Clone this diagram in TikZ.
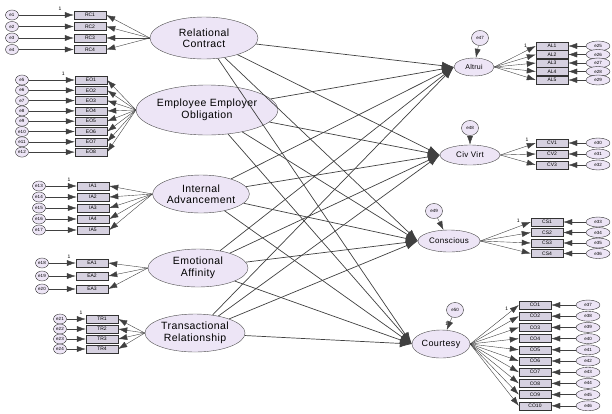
\documentclass[tikz,border=0pt]{standalone}
\usepackage{fontspec}
\setmainfont{Liberation Sans}
\newfontfamily\semfont[LetterSpace=4]{Liberation Sans}
\usetikzlibrary{arrows.meta,shapes.geometric}
\definecolor{lav}{RGB}{237,229,246}
\definecolor{itemgray}{RGB}{214,209,224}

\begin{document}
\begin{tikzpicture}[x=1pt,y=-1pt]
	\tikzset{latent/.style={draw=black!70,
				ellipse,
				fill=lav,
				inner sep=0pt,
				align=center,
				font=\semfont\fontsize{10.5}{11.5}\selectfont},
			item/.style={draw=black!80,
				rectangle,
				fill=itemgray,
				minimum width=32pt,
				minimum height=8pt,
				inner sep=0pt,
				font=\fontsize{5}{5}\selectfont},
			err/.style={draw=black!80,
				ellipse,
				fill=lav,
				minimum width=13pt,
				minimum height=10pt,
				inner sep=0pt,
				font=\fontsize{4.5}{5}\selectfont},
			fixlab/.style={font=\fontsize{5}{5}\selectfont, inner sep=1pt},
			arrow/.style={-{Latex[length=9pt,width=6pt]},
				draw=black!75},
			path/.style={-{Latex[length=12pt,width=8pt]},
				draw=black!75,
				line width=0.7pt}}
	\useasboundingbox (0,0) rectangle (612,413);

	% Exogenous latent variables
	\node[latent, minimum width=108pt, minimum height=42pt] (rc) at (204,38) {Relational\\Contract};
	\node[latent, minimum width=134pt, minimum height=50pt] (eeo) at (207,110) {Employee Employer\\Obligation};
	\node[latent, minimum width=94pt, minimum height=38pt] (ia) at (201,194) {Internal\\Advancement};
	\node[latent, minimum width=100pt, minimum height=38pt] (ea) at (198,268) {Emotional\\Affinity};
	\node[latent, minimum width=100pt, minimum height=38pt] (tr) at (195,333) {Transactional\\Relationship};

	% Endogenous latent variables
	\node[latent, minimum width=40pt, minimum height=18pt, font=\semfont\fontsize{7}{8}\selectfont] (alt) at (474,67) {Altrui};
	\node[latent, minimum width=60pt, minimum height=20pt, font=\semfont\fontsize{8}{9}\selectfont] (cv) at (470,155) {Civ Virt};
	\node[latent, minimum width=62pt, minimum height=22pt, font=\semfont\fontsize{8}{9}\selectfont] (con) at (449,241) {Conscious};
	\node[latent, minimum width=58pt, minimum height=28pt, font=\semfont\fontsize{9}{10}\selectfont] (cou) at (441,344) {Courtesy};

	% Disturbances
	\node[err, minimum width=17pt, minimum height=15pt] (z1) at (480,38) {e47};
	\node[err, minimum width=17pt, minimum height=15pt] (z2) at (470,128) {e48};
	\node[err, minimum width=17pt, minimum height=15pt] (z3) at (434,211) {e49};
	\node[err, minimum width=17pt, minimum height=15pt] (z4) at (455,310) {e50};
	\draw[arrow] (z1) -- (alt);
	\draw[arrow] (z2) -- (cv);
	\draw[arrow] (z3) -- (con);
	\draw[arrow] (z4) -- (cou) node[midway, left, fixlab] {1};

	% Left measurement models
	\foreach \lat/\pre/\n/\rx/\ex/\ys/\dy/\off in {rc/RC/4/90/12/15/11.5/0,
			eeo/EO/8/91/22/80/10.3/4, ia/IA/5/93/39/186/11/12,
			ea/EA/3/92/42/263/13/17, tr/TR/4/102/60/319/10/20} {
		\foreach \i in {1,...,\n} {
			\pgfmathtruncatemacro\k{\off+\i}
			\node[item] (\pre\i) at (\rx, {\ys+(\i-1)*\dy}) {\pre\i};
			\node[err] (e\pre\i) at (\ex, {\ys+(\i-1)*\dy}) {e\k};
			\draw[arrow] (e\pre\i) -- (\pre\i);
			\draw[arrow] (\lat.west) -- (\pre\i.east);
		}
		\path (e\pre1) -- (\pre1) node[near end, above=3pt, fixlab] {1};
	}

	% Right measurement models
	\foreach \lat/\pre/\n/\rx/\ex/\ys/\dy/\off in {alt/AL/5/552/598/46/8.5/24,
			cv/CV/3/552/598/143/11/29, con/CS/4/547/598/222/10.5/32,
			cou/CO/10/535/588/305/11.2/36} {
		\foreach \i in {1,...,\n} {
			\pgfmathtruncatemacro\k{\off+\i}
			\node[item] (\pre\i) at (\rx, {\ys+(\i-1)*\dy}) {\pre\i};
			\node[err, minimum width=24pt] (e\pre\i) at (\ex, {\ys+(\i-1)*\dy}) {e\k};
			\draw[arrow] (e\pre\i) -- (\pre\i.east);
			\draw[arrow] (\lat.east) -- (\pre\i.west);
		}
		\path (\lat.east) -- (\pre1.west) node[near end, above=3pt, fixlab] {1};
	}

	% Structural paths
	\foreach \s in {rc,eeo,ia,ea,tr} {
		\foreach \t in {alt,cv,con,cou} {
			\draw[path] (\s) -- (\t.west);
		}
	}
\end{tikzpicture}
\end{document}
